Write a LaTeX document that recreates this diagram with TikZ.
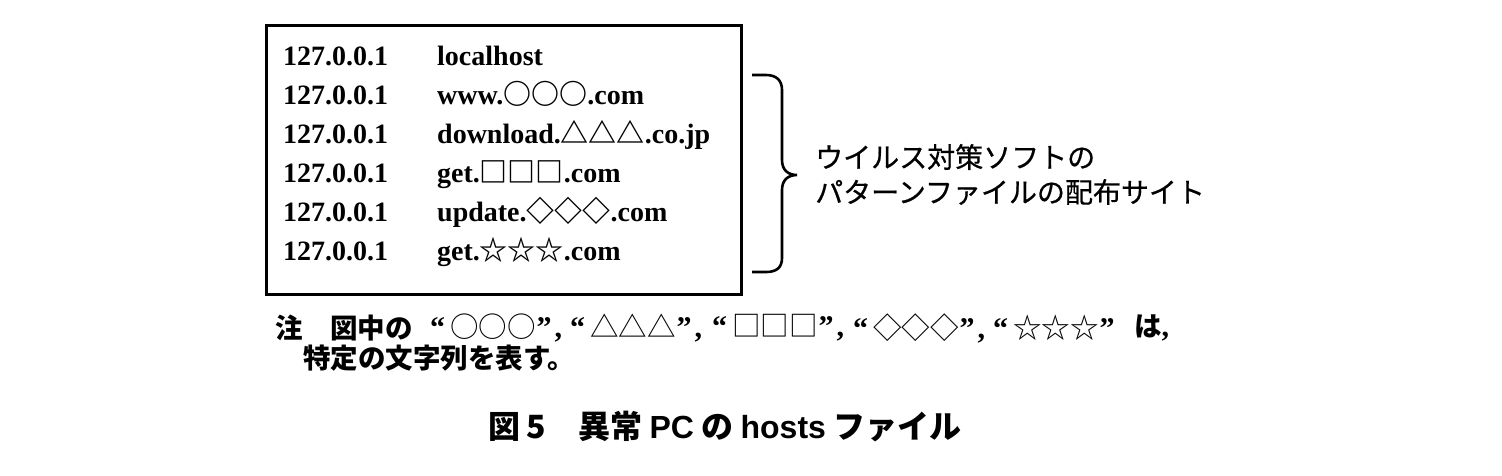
\documentclass[tikz,border=0pt]{standalone}
\usepackage{fontspec}
\setmainfont{Liberation Serif}
\setsansfont{Liberation Sans}
\newfontfamily\jp{Noto Sans CJK JP}
\newfontfamily\jpm[FakeBold=0.6]{Noto Sans CJK JP}
\newcommand\notesym[1]{{\mdseries\fontsize{28.5}{30}\selectfont #1}}
\newcommand\myLQ{{\rmfamily\fontsize{30}{30}\selectfont “}}
\newcommand\myRQ{{\rmfamily\fontsize{30}{30}\selectfont ”}}
\newcommand\myCM{{\rmfamily\fontsize{30}{30}\selectfont ,}}
\begin{document}
\begin{tikzpicture}[x=1pt,y=-1pt,
  row/.style={anchor=base west, inner sep=0pt, font=\fontsize{28}{30}\selectfont\bfseries},
  jptext/.style={anchor=west, inner sep=0pt, font=\jpm\fontsize{28}{30}\selectfont},
  notetext/.style={anchor=west, inner sep=0pt, font=\jp\bfseries\fontsize{27.5}{29}\selectfont},
  captext/.style={anchor=center, inner sep=0pt, font=\jp\bfseries\fontsize{32}{34}\selectfont},
  thick line/.style={line width=2.6pt}]
\useasboundingbox (0,0) rectangle (1502,475);
\node[draw, thick line, anchor=north west, minimum width=475pt, minimum height=269pt, inner sep=0pt] (box) at (265,24) {};
\foreach \i/\name/\txt in {0/a/{localhost},1/b/{www.{\jp ○○○}.com},2/c/{download.{\jp △△△}.co.jp},3/d/{get.{\jp □□□}.com},4/e/{update.{\jp ◇◇◇}.com},5/f/{get.{\jp ☆☆☆}.com}}{
  \node[row] (ip\name) at (283,65+39*\i) {127.0.0.1};
  \node[row] (host\name) at (437,65+39*\i) {\txt};
}
\draw[thick line] (752,75) -- (766,75) .. controls (776,75) and (782,80) .. (782,90) -- (782,160) .. controls (782,170) and (788,175) .. (797,175) .. controls (788,175) and (782,180) .. (782,190) -- (782,258) .. controls (782,268) and (776,272) .. (766,272) -- (752,272);
\node[jptext] (t1) at (815,157) {ウイルス対策ソフトの};
\node[jptext] (t2) at (815,192) {パターンファイルの配布サイト};
\node[notetext] (n1) at (275,328) {注　図中の};
\foreach \k/\x/\s in {1/430/○○○,2/570/△△△,3/712/□□□,4/853/◇◇◇}{
  \node[notetext] (g\k) at (\x,328) {\myLQ\kern5pt\notesym{\s}\kern1pt\myRQ\kern3pt\myCM};
}
\node[notetext] (g5) at (993,328) {\myLQ\kern5pt\notesym{☆☆☆}\kern1pt\myRQ};
\node[notetext] (ha) at (1134,328) {は\myCM};
\node[notetext] (n2) at (303,358) {特定の文字列を表す。};
\node[captext] (cap) at (725,427) {図\kern6pt 5　異常 {\sffamily PC} の {\sffamily hosts} ファイル};
\end{tikzpicture}
\end{document}
